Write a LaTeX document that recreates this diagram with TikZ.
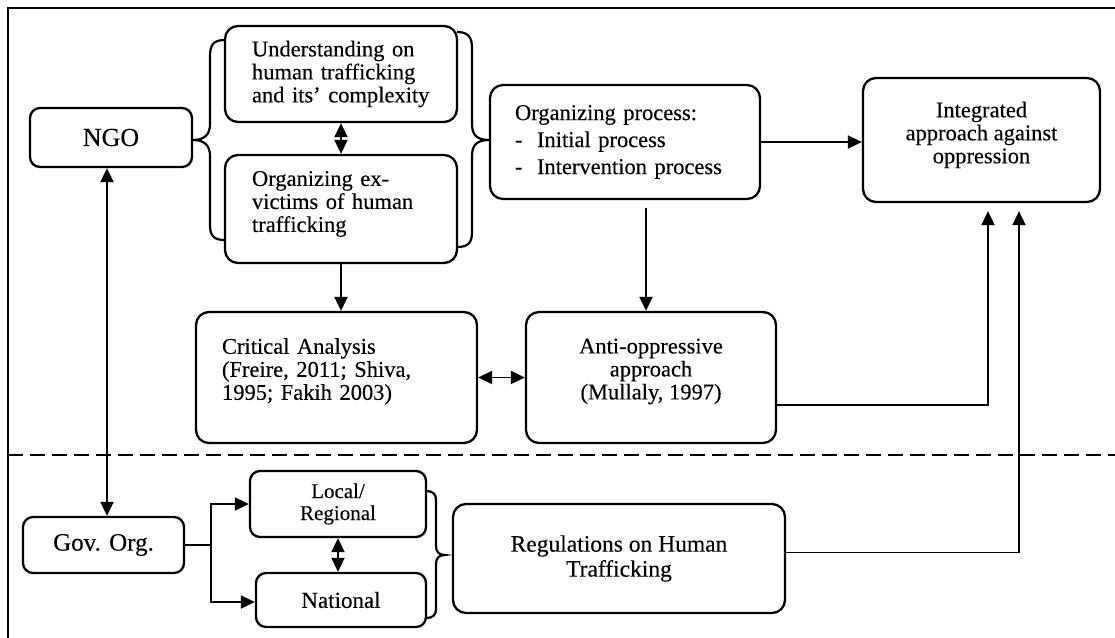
\documentclass[tikz,border=0pt]{standalone}
\usepackage{fontspec}
\setmainfont{Liberation Serif}[FakeBold=0.2]
\usetikzlibrary{arrows.meta}
\begin{document}
\begin{tikzpicture}[x=1pt,y=-1pt,
  box/.style={draw, line width=2.3pt, rounded corners=13pt, inner sep=0pt,
    font=\fontsize{22.5}{23}\selectfont},
  lbox/.style={box, align=left, inner xsep=#1},
  cbox/.style={box, align=center},
  tipx/.tip={Triangle[length=14pt,width=13pt]},
  con/.style={line width=1.9pt, -tipx},
  dcon/.style={line width=1.9pt, tipx-tipx},
  brc/.style={line width=2.2pt},
]
\useasboundingbox (0,0) rectangle (1115,637);

% frame and divider
\draw[line width=2.2pt] (8,645) -- (8,8) -- (1125,8);
\draw[line width=2.2pt, dash pattern=on 15pt off 7pt] (8,455) -- (1115,455);

% upper boxes
\node[cbox, rounded corners=10pt, minimum width=162pt, minimum height=59pt,
  font=\fontsize{26}{27}\selectfont] (ngo) at (111,137.5) {NGO};
\node[lbox=27pt, minimum width=232pt, minimum height=96pt, text width=178pt] (und) at (341,74)
  {Understanding on\\human trafficking\\and its' complexity};
\node[lbox=27pt, minimum width=232pt, minimum height=108pt, text width=178pt] (exv) at (341,209)
  {Organizing ex-\\victims of human\\trafficking\\[-8pt]\mbox{}};
\node[lbox=25pt, minimum width=270pt, minimum height=114pt, text width=220pt] (org) at (625,142)
  {\mbox{Organizing process:}\\[4pt]\mbox{-\hspace{14.5pt}Initial process}\\[4pt]\mbox{-\hspace{14.5pt}Intervention process}};
\node[cbox, minimum width=237pt, minimum height=124pt] (int) at (981.5,140)
  {Integrated\\approach against\\oppression\\[-8pt]\mbox{}};
\node[lbox=26pt, minimum width=281pt, minimum height=131pt, text width=229pt] (crit) at (336.5,377.5)
  {Critical Analysis\\(Freire, 2011; Shiva,\\1995; Fakih 2003)\\[-6pt]\mbox{}};
\node[cbox, minimum width=250pt, minimum height=131pt] (anti) at (651,377.5)
  {Anti-oppressive\\approach\\(Mullaly, 1997)\\[-6pt]\mbox{}};

% lower boxes
\node[cbox, rounded corners=10pt, minimum width=161pt, minimum height=56pt,
  font=\fontsize{25}{26}\selectfont] (gov) at (103.5,545) {Gov. Org.};
\node[cbox, rounded corners=10pt, minimum width=176pt, minimum height=66pt,
  font=\fontsize{21}{22}\selectfont] (loc) at (338,504) {Local/\\Regional};
\node[cbox, rounded corners=10pt, minimum width=170pt, minimum height=54pt,
  font=\fontsize{23}{24}\selectfont] (nat) at (341,600) {National};
\node[cbox, minimum width=332pt, minimum height=109pt,
  font=\fontsize{23.5}{25}\selectfont] (reg) at (619,558.5) {Regulations on Human\\Trafficking};

% braces
\draw[brc] (225,40) .. controls (213,40) and (210,45) .. (210,57) -- (210,124)
  .. controls (210,134) and (205,140) .. (193,140)
  .. controls (205,140) and (210,146) .. (210,156) -- (210,225)
  .. controls (210,236) and (214,240) .. (225,240);
\draw[brc] (457,32) .. controls (468,32) and (472,37) .. (472,48) -- (472,124)
  .. controls (472,134) and (476,140) .. (489,140)
  .. controls (476,140) and (472,146) .. (472,156) -- (472,232)
  .. controls (472,243) and (468,247) .. (457,247);
\draw[brc] (426,491) .. controls (433,491) and (436,494) .. (436,500) -- (436,546)
  .. controls (436,552) and (439,555) .. (445,555)
  .. controls (439,555) and (436,558) .. (436,564) -- (436,609)
  .. controls (436,615) and (433,618) .. (426,618);

% connectors
\draw[dcon] ([xshift=-4pt]ngo.south) -- ([xshift=-4pt]ngo.south |- gov.north);
\draw[dcon] (und.south) -- (exv.north);
\draw[con] (exv.south) -- (exv.south |- crit.north);
\draw[con] (org.east) -- (org.east -| int.west);
\draw[con] ([xshift=-5pt,yshift=-8pt]anti.north |- org.south) -- ([xshift=-5pt]anti.north);
\draw[dcon] (crit.east) -- (anti.west);
\draw[con] ([yshift=-27.5pt]anti.east) -| ([xshift=6.5pt,yshift=-8pt]int.south);
\draw[con] ([yshift=6pt]reg.east) -| ([xshift=37.5pt,yshift=-8pt]int.south);
\draw[con] (gov.east) -- ++(26,0) |- (loc.west);
\draw[con] (gov.east) -- ++(26,0) |- ([yshift=-2pt]nat.west);
\draw[dcon] (loc.south) -- (loc.south |- nat.north);
\end{tikzpicture}
\end{document}
